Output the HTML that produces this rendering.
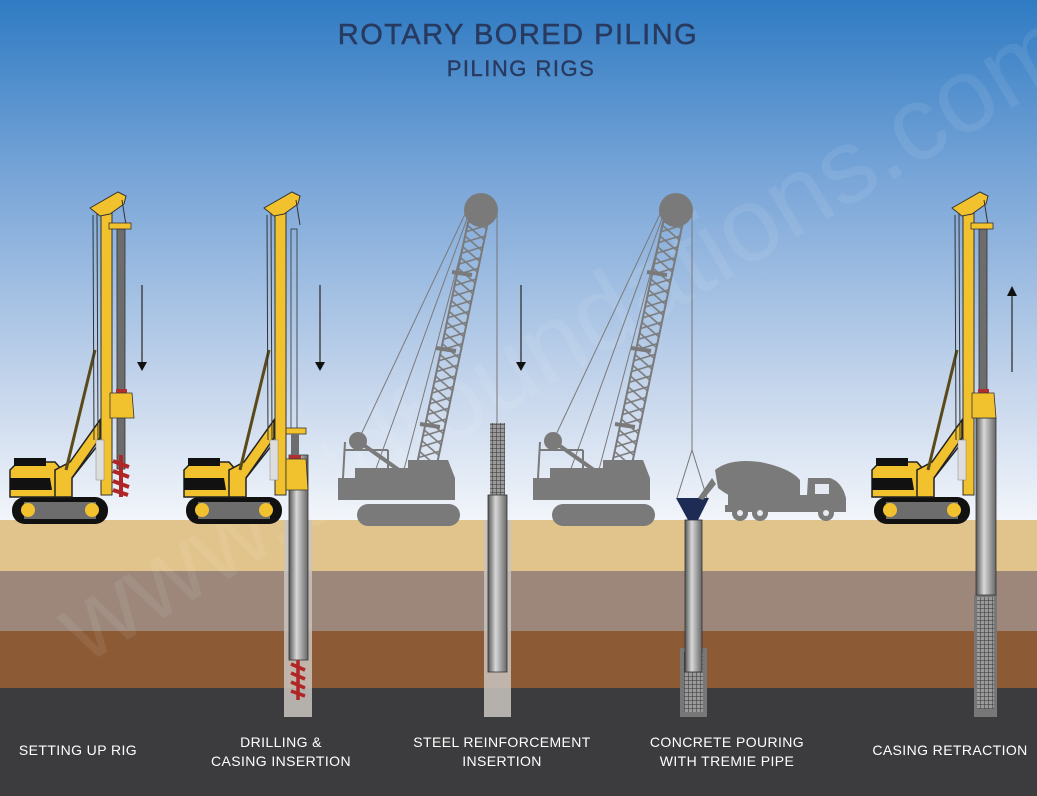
<!DOCTYPE html>
<html><head><meta charset="utf-8"><style>
html,body{margin:0;padding:0;width:1037px;height:796px;overflow:hidden}
svg{display:block}
text{font-family:"Liberation Sans",sans-serif}
</style></head><body>
<svg width="1037" height="796" viewBox="0 0 1037 796" xmlns="http://www.w3.org/2000/svg">
<defs>
<linearGradient id="sky" x1="0" y1="0" x2="0" y2="1">
<stop offset="0" stop-color="#2f7bc3"/><stop offset="0.35" stop-color="#7aa6d8"/><stop offset="0.75" stop-color="#c6d6ec"/><stop offset="1" stop-color="#f2f5fa"/>
</linearGradient>
<linearGradient id="pipe" x1="0" y1="0" x2="1" y2="0">
<stop offset="0" stop-color="#555"/><stop offset="0.4" stop-color="#d8d8d8"/><stop offset="1" stop-color="#666"/>
</linearGradient>
<pattern id="mesh" width="4" height="4" patternUnits="userSpaceOnUse"><rect width="4" height="4" fill="#9a9a9a"/><path d="M0 0H4M0 0V4" stroke="#333" stroke-width="1"/></pattern>
<pattern id="lattice" width="20" height="11" patternUnits="userSpaceOnUse" patternTransform="rotate(12)"><path d="M0 0 L20 11 M20 0 L0 11" stroke="#7a7a7a" stroke-width="1.6"/></pattern>
<g id="track"><rect x="12" y="497" width="96" height="27" rx="13" fill="#111"/><rect x="24" y="502" width="72" height="17" fill="#6d6d6d"/><circle cx="28" cy="510" r="7" fill="#f2c12e"/><circle cx="92" cy="510" r="7" fill="#f2c12e"/></g>
<g id="rigbase">
<use href="#track"/>
<path d="M10 470 L18 462 L55 462 L62 470 L62 497 L10 497 Z" fill="#f2c12e" stroke="#222" stroke-width="1.5"/>
<rect x="14" y="458" width="32" height="8" fill="#111"/>
<path d="M10 478 H50 L52 490 H10 Z" fill="#111"/>
<path d="M55 497 L55 470 L70 462 L100 420 L100 438 L72 478 L72 497 Z" fill="#f2c12e" stroke="#222" stroke-width="1.5"/>
<path d="M72 478 L98 445" stroke="#222" stroke-width="1.5"/>
<path d="M66 470 L95 350" stroke="#5a4a1a" stroke-width="3"/>
<line x1="93" y1="215" x2="94" y2="440" stroke="#333" stroke-width="1"/>
<line x1="97" y1="212" x2="98" y2="440" stroke="#333" stroke-width="1"/>
<rect x="101" y="205" width="11" height="290" fill="#f2c12e" stroke="#333" stroke-width="1"/>
<path d="M90 208 L118 192 L126 196 L124 204 L110 214 L100 216 Z" fill="#f2c12e" stroke="#333" stroke-width="1"/>
<line x1="122" y1="200" x2="126" y2="225" stroke="#333" stroke-width="1"/>
<rect x="96" y="440" width="8" height="40" fill="#ddd" stroke="#888" stroke-width="0.5"/>
</g>
</defs>
<rect width="1037" height="520" fill="url(#sky)"/>
<rect y="520" width="1037" height="51" fill="#e1c48b"/>
<rect y="571" width="1037" height="60" fill="#9c877a"/>
<rect y="631" width="1037" height="57" fill="#8c5a35"/>
<rect y="688" width="1037" height="108" fill="#3c3c3e"/>

<text x="518" y="44" text-anchor="middle" font-size="29" letter-spacing="1.5" fill="#283a60" stroke="#283a60" stroke-width="0.5">ROTARY BORED PILING</text>
<text x="521" y="76" text-anchor="middle" font-size="22" letter-spacing="1.5" fill="#283a60" stroke="#283a60" stroke-width="0.4">PILING RIGS</text>

<!-- watermark -->
<text x="0" y="0" transform="translate(85,665) rotate(-31)" font-size="105" fill="#ffffff" fill-opacity="0.08">www.ctdfoundations.com</text>

<!-- Rig 1 -->
<g>
<rect x="117" y="229" width="8" height="240" fill="#6d6d6d" stroke="#333" stroke-width="0.8"/>
<use href="#rigbase"/>
<rect x="109" y="223" width="22" height="6" fill="#f2c12e" stroke="#333" stroke-width="0.8"/>
<rect x="116" y="389" width="11" height="5" fill="#b03030"/>
<path d="M110 393 H132 L134 418 H110 Z" fill="#f2c12e" stroke="#333" stroke-width="0.8"/>
<path d="M121 455 V497 M113 461 L129 467 M113 471 L129 477 M113 481 L129 487 M113 490 L128 495" stroke="#b02525" stroke-width="4"/>
</g>
<line x1="142" y1="285" x2="142" y2="362" stroke="#333" stroke-width="1.3"/>
<path d="M137 362 H147 L142 371 Z" fill="#111"/>

<!-- Rig 2 -->
<rect x="284" y="520" width="28" height="197" fill="#c9c4c0" opacity="0.85"/>
<rect x="289" y="455" width="19" height="205" fill="url(#pipe)" stroke="#333" stroke-width="0.8"/>
<path d="M298 660 V700 M291 664 L305 670 M291 673 L305 679 M291 682 L305 688 M291 691 L305 696" stroke="#b02525" stroke-width="3.5"/>
<g transform="translate(174,0)">
<rect x="117" y="229" width="6" height="200" fill="none" stroke="#333" stroke-width="0.8"/>
<use href="#rigbase"/>
<rect x="112" y="428" width="20" height="6" fill="#f2c12e" stroke="#333" stroke-width="0.8"/>
<rect x="117" y="434" width="8" height="25" fill="#6d6d6d"/>
<rect x="115" y="455" width="12" height="5" fill="#b03030"/>
<path d="M112 459 H132 L134 490 H112 Z" fill="#f2c12e" stroke="#333" stroke-width="0.8"/>
</g>
<line x1="320" y1="285" x2="320" y2="362" stroke="#333" stroke-width="1.3"/>
<path d="M315 362 H325 L320 371 Z" fill="#111"/>

<!-- Crane group -->
<defs>
<g id="crane" fill="#7a7a7a" stroke="#7a7a7a">
<rect x="357" y="504" width="103" height="22" rx="11" stroke="none"/>
<path d="M338 478 H355 V468 H408 V460 L448 460 L455 478 V500 H338 Z" stroke="none"/>
<path d="M343 478 L345 442 M388 478 L388 450 M345 450 H388" fill="none" stroke-width="2"/>
<circle cx="358" cy="441" r="9" stroke="none"/>
<path d="M358 441 L420 485" stroke-width="4"/>
<path d="M412 488 L468 222 L488 222 L432 488 Z" fill="url(#lattice)" stroke-width="2"/>
<path d="M420 424 L440 427 M436 348 L456 351 M452 272 L472 275" stroke-width="4"/>
<circle cx="481" cy="210" r="17" stroke="none"/>
<path d="M358 441 L466 212 M396 500 L470 218 M366 496 L468 216" fill="none" stroke-width="1"/>
</g>
</defs>
<use href="#crane"/>
<use href="#crane" transform="translate(195,0)"/>

<!-- Steel reinforcement -->
<line x1="497" y1="212" x2="497" y2="425" stroke="#777" stroke-width="1"/>
<rect x="484" y="520" width="27" height="197" fill="#c9c4c0" opacity="0.85"/>
<rect x="490" y="423" width="15" height="72" fill="url(#mesh)"/>
<rect x="488" y="495" width="19" height="177" fill="url(#pipe)" stroke="#333" stroke-width="0.8"/>
<line x1="521" y1="285" x2="521" y2="362" stroke="#333" stroke-width="1.3"/>
<path d="M516 362 H526 L521 371 Z" fill="#111"/>

<!-- Tremie -->
<line x1="692" y1="212" x2="692" y2="450" stroke="#777" stroke-width="1"/>
<path d="M692 450 L677 498 M692 450 L707 498" stroke="#777" stroke-width="1"/>
<rect x="680" y="648" width="27" height="69" fill="#777"/>
<rect x="684" y="652" width="19" height="60" fill="url(#mesh)"/>
<rect x="685" y="520" width="17" height="152" fill="url(#pipe)" stroke="#333" stroke-width="0.8"/>
<path d="M676 498 H709 L698 520 H688 Z" fill="#1d2b55"/>

<!-- Truck -->
<g fill="#7a7a7a">
<path d="M715 470 Q730 458 760 462 Q790 468 800 480 L800 500 L740 500 Q728 496 718 488 Z"/>
<path d="M712 478 L698 498 L703 500 L716 484 Z"/>
<rect x="728" y="495" width="80" height="10"/>
<path d="M808 478 H830 Q842 482 846 498 V512 H806 Z"/>
<rect x="725" y="505" width="120" height="7"/>
<circle cx="740" cy="513" r="8"/><circle cx="760" cy="513" r="8"/><circle cx="826" cy="513" r="8"/>
</g>
<g fill="#e6ebf3"><circle cx="740" cy="513" r="3"/><circle cx="760" cy="513" r="3"/><circle cx="826" cy="513" r="3"/><rect x="815" y="484" width="14" height="10"/></g>

<!-- Rig 5 -->
<rect x="974" y="595" width="23" height="122" fill="#777"/>
<rect x="977" y="597" width="17" height="112" fill="url(#mesh)"/>
<rect x="976" y="418" width="20" height="177" fill="url(#pipe)" stroke="#333" stroke-width="0.8"/>
<g transform="translate(862,0)">
<rect x="117" y="229" width="8" height="165" fill="#6d6d6d" stroke="#333" stroke-width="0.8"/>
<use href="#rigbase"/>
<rect x="109" y="223" width="22" height="6" fill="#f2c12e" stroke="#333" stroke-width="0.8"/>
<rect x="116" y="389" width="11" height="5" fill="#b03030"/>
<path d="M110 393 H132 L134 418 H110 Z" fill="#f2c12e" stroke="#333" stroke-width="0.8"/>
</g>
<line x1="1012" y1="295" x2="1012" y2="372" stroke="#333" stroke-width="1.3"/>
<path d="M1007 296 H1017 L1012 286 Z" fill="#111"/>

<!-- Labels -->
<g fill="#ffffff" font-size="14" letter-spacing="0.4" text-anchor="middle">
<text x="78" y="755">SETTING UP RIG</text>
<text x="281" y="747">DRILLING &amp;</text>
<text x="281" y="766">CASING INSERTION</text>
<text x="502" y="747">STEEL REINFORCEMENT</text>
<text x="502" y="766">INSERTION</text>
<text x="727" y="747">CONCRETE POURING</text>
<text x="727" y="766">WITH TREMIE PIPE</text>
<text x="950" y="755">CASING RETRACTION</text>
</g>
</svg>
</body></html>
